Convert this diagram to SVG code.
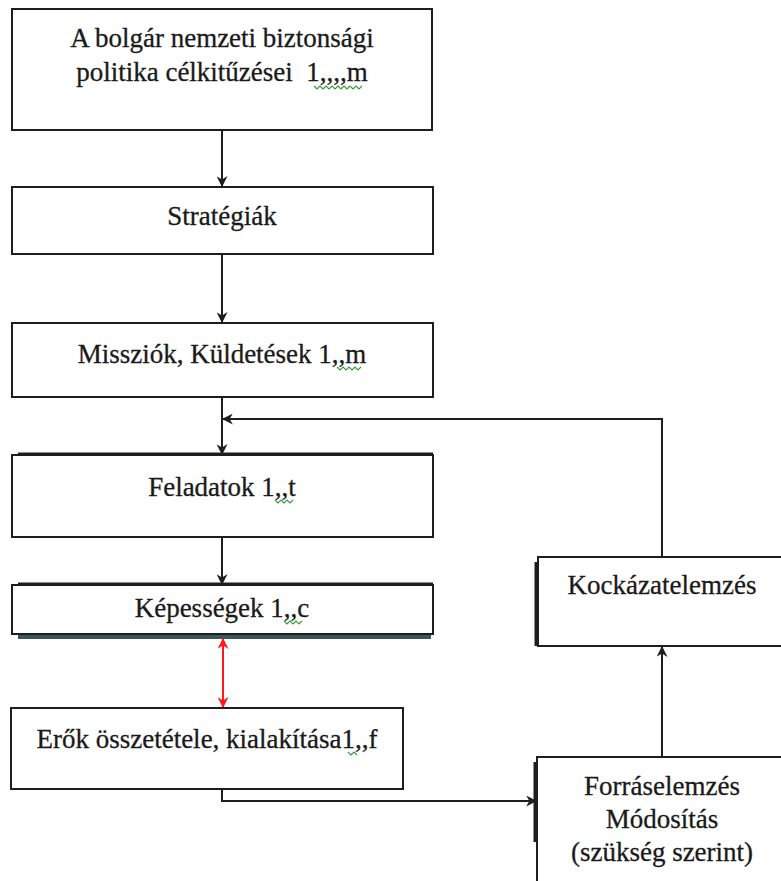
<svg xmlns="http://www.w3.org/2000/svg" width="781" height="881" viewBox="0 0 781 881">
  <style>
    .box { fill: #ffffff; stroke: #1e1e1e; stroke-width: 2; }
    .lbl { font-family: "Liberation Serif", "Times New Roman", serif; font-size: 27px; fill: #1a1a1a; stroke: #1a1a1a; stroke-width: 0.3; text-anchor: middle; }
    .edge { fill: none; stroke: #1e1e1e; stroke-width: 2; }
    .red { fill: none; stroke: #ff1a1a; stroke-width: 2; }
    .shade { stroke: #1e1e1e; stroke-width: 3; }
    .squig { fill: none; stroke: #3a9a3a; stroke-width: 1.2; }
  </style>
  <defs>
    <marker id="ah" viewBox="0 0 10 10" refX="9" refY="5" markerWidth="11" markerHeight="11" markerUnits="userSpaceOnUse" orient="auto">
      <path d="M0,0 L10,5 L0,10 L3,5 Z" fill="#1e1e1e"/>
    </marker>
    <marker id="ahr" viewBox="0 0 10 10" refX="9" refY="5" markerWidth="11" markerHeight="11" markerUnits="userSpaceOnUse" orient="auto-start-reverse">
      <path d="M0,0 L10,5 L0,10 L3,5 Z" fill="#ff1a1a"/>
    </marker>
  </defs>

  <rect width="781" height="881" fill="#ffffff"/>

  <!-- connectors -->
  <g id="connectors">
    <path class="edge" d="M222,130 V186" marker-end="url(#ah)"/>
    <path class="edge" d="M222,254 V322" marker-end="url(#ah)"/>
    <path class="edge" d="M222,397 V454" marker-end="url(#ah)"/>
    <path class="edge" d="M222,537 V584" marker-end="url(#ah)"/>
    <path class="red" d="M223,639 V707" marker-start="url(#ahr)" marker-end="url(#ahr)"/>
    <path class="edge" d="M222,789 V801 H536" marker-end="url(#ah)"/>
    <path class="edge" d="M662,757 V647" marker-end="url(#ah)"/>
    <path class="edge" d="M662,557 V419 H223" marker-end="url(#ah)"/>
  </g>

  <!-- nodes -->
  <g id="n-celok">
    <rect class="box" x="12" y="9" width="420" height="121"/>
    <text class="lbl" x="222" y="47">A bolgár nemzeti biztonsági</text>
    <text class="lbl" x="222" y="81" xml:space="preserve">politika célkitűzései  1,,,,m</text>
    <path class="squig" d="M314,86 l3,3 l3,-3 l3,3 l3,-3 l3,3 l3,-3 l3,3 l3,-3 l3,3 l3,-3 l3,3 l3,-3 l3,3 l3,-3 l3,3 l3,-3"/>
  </g>

  <g id="n-strategiak">
    <rect class="box" x="12" y="187" width="421" height="67"/>
    <text class="lbl" x="222" y="225">Stratégiák</text>
  </g>

  <g id="n-missziok">
    <rect class="box" x="12" y="323" width="421" height="74"/>
    <text class="lbl" x="222" y="363">Missziók, Küldetések 1,,m</text>
    <path class="squig" d="M337,367 l3,3 l3,-3 l3,3 l3,-3 l3,3 l3,-3 l3,3 l3,-3"/>
  </g>

  <g id="n-feladatok">
    <line class="shade" x1="18" y1="454" x2="433" y2="454"/>
    <rect class="box" x="12" y="455" width="421" height="82"/>
    <text class="lbl" x="222" y="496">Feladatok 1,,t</text>
    <path class="squig" d="M275,500 l3,3 l3,-3 l3,3 l3,-3 l3,3 l3,-3"/>
  </g>

  <g id="n-kepessegek">
    <line class="shade" x1="18" y1="584" x2="433" y2="584"/>
    <rect x="18" y="635" width="413" height="4" fill="#3b5654"/>
    <rect class="box" x="12" y="585" width="421" height="49"/>
    <text class="lbl" x="222" y="617">Képességek 1,,c</text>
    <path class="squig" d="M284,621 l3,3 l3,-3 l3,3 l3,-3 l3,3 l3,-3"/>
  </g>

  <g id="n-erok">
    <rect class="box" x="11" y="708" width="392" height="81"/>
    <text class="lbl" x="207" y="748">Erők összetétele, kialakítása1,,f</text>
    <path class="squig" d="M348,752 l3,3 l3,-3 l3,3"/>
  </g>

  <g id="n-kockazat">
    <line class="shade" x1="536" y1="562" x2="536" y2="646"/>
    <rect class="box" x="538" y="557" width="260" height="89"/>
    <text class="lbl" x="662" y="594">Kockázatelemzés</text>
  </g>

  <g id="n-forras">
    <line class="shade" x1="535" y1="762" x2="535" y2="842"/>
    <rect class="box" x="537" y="757" width="260" height="140"/>
    <text class="lbl" x="662" y="795">Forráselemzés</text>
    <text class="lbl" x="662" y="828">Módosítás</text>
    <text class="lbl" x="662" y="861">(szükség szerint)</text>
  </g>
</svg>
